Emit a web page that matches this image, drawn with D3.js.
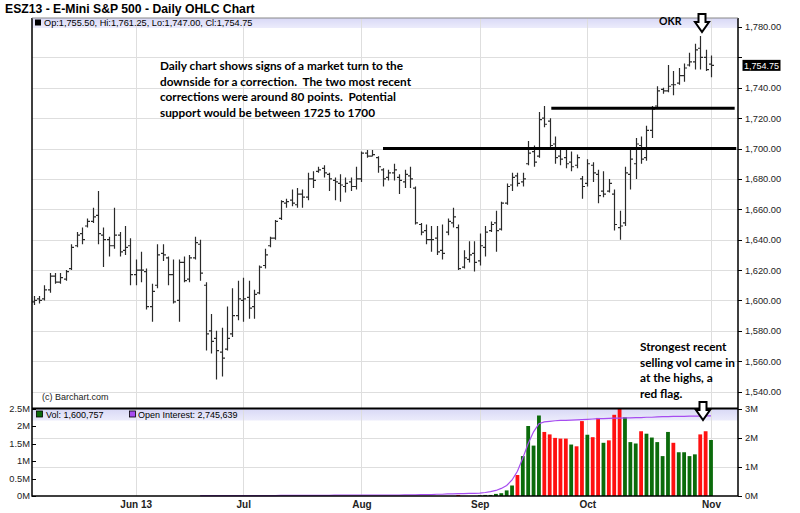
<!DOCTYPE html>
<html>
<head>
<meta charset="utf-8">
<script src="https://d3js.org/d3.v7.min.js"></script>
<style>
  body { margin: 0; background: #fff; }
  svg { display: block; font-family: "Liberation Sans", Arial, sans-serif; }
  .grid line { stroke: #dedede; shape-rendering: crispEdges; }
  .grid path { display: none; }
  .axis text { font-size: 9.3px; fill: #222; }
  .axis line { stroke: #000; shape-rendering: crispEdges; }
  .axis path { display: none; }
  .note { font-family: Lato, "Open Sans", sans-serif; font-weight: bold; font-size: 11.8px; fill: #000; white-space: pre; }
</style>
<title>ESZ13 Daily OHLC</title>
</head>
<body>
<div id="chart"></div>
<script>
// ---- data (trading day index 0 = early May 2013, 126 = Nov 1) ----
const opens = [1599,1601,1601,1607,1616,1612,1614,1621,1636,1644,1649,1652,1656,1643,1640,1636,1643,1633,1636,1617,
  1620,1619,1596,1610,1631,1628,1617,1600,1625,1614,1628,1637,1610,1580,1575,1566,1568,1578,1590,1600,
  1602,1596,1605,1623,1636,1641,1654,1664,1666,1663,1670,1668,1680,1685,1687,1683,1679,1677,1675,1678,
  1675,1680,1697,1695,1694,1686,1681,1684,1681,1678,1682,1674,1650,1646,1640,1641,1633,1645,1651,1648,
  1622,1627,1631,1626,1635,1646,1651,1647,1664,1676,1682,1678,1690,1698,1695,1720,1718,1703,1695,1694,
  1691,1689,1680,1677,1689,1683,1672,1672,1670,1648,1651,1683,1690,1702,1694,1712,1728,1739,1738,1742,
  1743,1748,1755,1757,1766,1760,1755.5];
const highs = [1603,1603,1610,1618,1618,1618,1620,1637,1645,1648,1654,1661,1672,1648,1642,1661,1645,1649,1641,1627,
  1632,1621,1611,1637,1637,1629,1627,1627,1629,1630,1642,1640,1612,1591,1580,1582,1596,1608,1613,1615,
  1613,1607,1623,1634,1642,1653,1666,1667,1673,1674,1673,1684,1685,1688,1689,1684,1681,1683,1681,1681,
  1688,1698,1699,1699,1695,1687,1686,1690,1683,1686,1688,1675,1651,1650,1649,1649,1650,1654,1661,1650,
  1633,1639,1639,1644,1649,1652,1659,1665,1677,1684,1684,1684,1705,1702,1724,1728,1720,1708,1701,1700,
  1698,1696,1682,1693,1691,1686,1685,1680,1673,1659,1688,1700,1707,1708,1715,1728,1741,1740,1755,1751,
  1753,1756,1763,1769,1774,1765,1761.25];
const lows = [1597,1598,1600,1605,1611,1611,1613,1620,1635,1637,1648,1651,1637,1622,1629,1634,1629,1630,1610,1610,
  1612,1594,1586,1608,1626,1610,1598,1586,1612,1612,1627,1613,1567,1565,1548,1550,1567,1576,1587,1586,
  1588,1588,1604,1621,1635,1640,1653,1661,1662,1661,1661,1666,1674,1684,1681,1672,1666,1665,1671,1672,
  1673,1678,1694,1695,1684,1675,1679,1679,1670,1674,1674,1650,1643,1637,1632,1630,1627,1643,1648,1620,
  1621,1625,1619,1623,1629,1645,1632,1646,1663,1672,1675,1675,1689,1688,1694,1714,1701,1690,1689,1687,
  1685,1687,1667,1675,1678,1664,1668,1671,1646,1640,1649,1673,1680,1690,1692,1707,1727,1736,1737,1735,
  1742,1744,1754,1752,1752,1751,1747];
const closes = [1600,1600,1607,1616,1612,1615,1619,1635,1643,1640,1652,1655,1644,1640,1636,1643,1632,1635,1617,1620,
  1620,1596,1606,1630,1630,1617,1599,1625,1613,1628,1638,1618,1578,1573,1567,1562,1575,1590,1601,1601,
  1595,1604,1622,1630,1641,1652,1665,1665,1664,1670,1668,1680,1679,1686,1684,1680,1678,1676,1677,1675,
  1680,1697,1695,1696,1688,1680,1684,1686,1679,1683,1680,1651,1645,1640,1640,1632,1631,1652,1655,1621,
  1628,1630,1625,1636,1645,1650,1646,1664,1675,1681,1677,1680,1697,1691,1719,1716,1702,1694,1693,1690,
  1688,1694,1675,1690,1684,1669,1670,1677,1650,1649,1684,1693,1703,1693,1712,1726,1738,1738,1741,1742,
  1748,1753,1757,1765,1760,1752,1754.75];

// volume (millions, left scale) and direction, from day 79 on
const volStart = 79;
const volumes = [0.03,0,0,0,0.02,0.03,0.03,0.06,0.08,0.16,0.30,0.60,1.14,2.00,1.44,2.30,1.83,1.76,1.66,1.64,
  1.64,1.47,1.42,2.14,1.75,1.68,2.23,1.52,1.59,2.32,2.50,2.25,1.54,1.50,1.85,1.78,1.67,1.54,1.14,1.83,
  1.52,1.25,1.25,1.14,1.19,1.76,1.85,1.60];
const volUp = [0,1,1,1,1,1,1,1,1,1,1,0,1,1,1,1,0,0,0,0,
  0,1,0,0,1,0,0,1,0,0,0,1,1,1,0,1,1,1,1,1,
  0,1,1,1,1,0,0,1];

// open interest (millions, right scale), from day 31 on
const oiStart = 31;
const openInterest = [0.01,0.01,0.01,0.01,0.01,0.01,0.01,0.01,0.01,0.01,0.01,0.01,0.01,0.01,0.01,
  0.02,0.02,0.02,0.02,0.02,0.02,0.02,0.02,0.02,0.02,0.03,0.03,0.03,0.03,0.03,0.03,0.03,0.03,0.03,0.03,
  0.03,0.03,0.03,0.04,0.04,0.04,0.05,0.05,0.05,0.06,0.06,0.07,0.07,0.08,0.08,0.09,0.09,0.10,0.12,0.15,
  0.19,0.26,0.36,0.55,0.85,1.30,1.80,2.20,2.48,2.54,2.56,2.58,2.59,2.59,2.60,2.61,2.62,2.63,2.64,2.65,
  2.65,2.66,2.67,2.67,2.68,2.68,2.69,2.69,2.70,2.70,2.71,2.72,2.72,2.73,2.73,2.73,2.74,2.74,2.74,2.75,2.746];

// x axis: first trading day of each month
const monthIdx = [19, 39, 61, 83, 103, 126];
const monthLabels = ["Jun 13", "Jul", "Aug", "Sep", "Oct", "Nov"];
const priceTicks = d3.range(1540, 1781, 20);
const volTicksLeft = [0, 0.5, 1, 1.5, 2, 2.5];
const volTicksRight = [0, 1, 2, 3];

// support lines drawn on the chart: [price, from day, to day]
const supports = [[1700, 65, 130.7], [1726.5, 96.3, 130.4]];

const noteLines = ["Daily chart shows signs of a market turn to the",
  "downside for a correction.  The two most recent",
  "corrections were around 80 points.  Potential",
  "support would be between 1725 to 1700"];
const volNoteLines = ["Strongest recent", "selling vol came in", "at the highs, a", "red flag."];

// ---- layout ----
const width = 800, height = 513;
const L = 32, R = 738, T = 18, MID = 408.5, B = 496;

const svg = d3.select("#chart").append("svg").attr("width", width).attr("height", height);

const x = d3.scaleLinear().domain([0, 126]).range([33.5, 711]);
const y = d3.scaleLinear().domain([1540, 1780]).range([391.6, 27]);
const vY = d3.scaleLinear().domain([0, 2.5]).range([B, MID]);
const oiY = d3.scaleLinear().domain([0, 3]).range([B, MID]);

// title
svg.append("text").attr("x", 5).attr("y", 12.5).style("font-weight", "bold").style("font-size", "12.2px")
  .text("ESZ13 - E-Mini S&P 500 - Daily OHLC Chart");

// header bands
const defs = svg.append("defs");
const grad = defs.append("linearGradient").attr("id", "band").attr("x1", 0).attr("x2", 0).attr("y1", 0).attr("y2", 1);
grad.append("stop").attr("offset", "0%").attr("stop-color", "#d8d8f6");
grad.append("stop").attr("offset", "100%").attr("stop-color", "#ececfb");
svg.append("rect").attr("x", L).attr("y", T).attr("width", R - L).attr("height", 10).attr("fill", "url(#band)");
svg.append("rect").attr("x", L).attr("y", MID).attr("width", R - L).attr("height", 12).attr("fill", "url(#band)");

// grid
svg.append("g").attr("class", "grid")
  .attr("transform", `translate(${L},0)`)
  .call(d3.axisRight(y).tickValues(priceTicks.filter(d => d < 1780)).tickSize(R - L).tickFormat(""));
svg.append("g").attr("class", "grid")
  .attr("transform", `translate(${L},0)`)
  .call(d3.axisRight(oiY).tickValues([1, 2]).tickSize(R - L).tickFormat(""));
svg.append("g").attr("class", "grid")
  .attr("transform", `translate(0,${T})`)
  .call(d3.axisBottom(x).tickValues(monthIdx).tickSize(B - T).tickFormat(""));

// OHLC bars
const px = i => Math.round(x(i)) + 0.5;
svg.append("g").selectAll("path").data(closes).join("path")
  .attr("d", (c, i) => `M${px(i)},${y(highs[i])}V${y(lows[i])}` +
    `M${px(i) - 2.5},${y(opens[i])}H${px(i)}M${px(i)},${y(c)}H${px(i) + 2.5}`)
  .attr("stroke", "#2a2a2a").attr("stroke-width", 1.2).attr("fill", "none");

// support lines
svg.append("g").selectAll("line").data(supports).join("line")
  .attr("x1", d => x(d[1])).attr("x2", d => x(d[2]))
  .attr("y1", d => y(d[0])).attr("y2", d => y(d[0]))
  .attr("stroke", "#000").attr("stroke-width", 3);

// volume bars
svg.append("g").selectAll("rect").data(volumes).join("rect")
  .attr("x", (v, j) => x(volStart + j) - 1.9).attr("width", 3.8)
  .attr("y", v => vY(v)).attr("height", v => B - vY(v))
  .attr("fill", (v, j) => volUp[j] ? "#0b6b0b" : "#ff1010");

// open interest line
svg.append("path")
  .datum(openInterest)
  .attr("d", d3.line().x((v, j) => x(oiStart + j)).y(v => oiY(v)))
  .attr("fill", "none").attr("stroke", "#a64cf0").attr("stroke-width", 1.2);

// frame
svg.append("path")
  .attr("d", `M${L},${T}V${B}H${R}V${T}`)
  .attr("fill", "none").attr("stroke", "#000").attr("stroke-width", 1.5);
svg.append("line").attr("x1", L).attr("x2", R).attr("y1", MID).attr("y2", MID)
  .attr("stroke", "#000").attr("stroke-width", 2);
svg.append("line").attr("x1", L).attr("x2", R).attr("y1", T).attr("y2", T)
  .attr("stroke", "#888").attr("stroke-width", 1);

// axes
const lastClose = closes[closes.length - 1];
svg.append("g").attr("class", "axis")
  .attr("transform", `translate(${R},0)`)
  .call(d3.axisRight(y).tickValues(priceTicks).tickSize(4).tickPadding(3)
    .tickFormat(d => Math.abs(d - lastClose) < 8 ? "" : d3.format(",.2f")(d)));
svg.append("g").attr("class", "axis")
  .attr("transform", `translate(${R},0)`)
  .call(d3.axisRight(oiY).tickValues(volTicksRight).tickSize(4).tickPadding(3).tickFormat(d => d + "M"));
svg.append("g").attr("class", "axis")
  .attr("transform", `translate(${L},0)`)
  .call(d3.axisLeft(vY).tickValues(volTicksLeft).tickSizeInner(-4).tickSizeOuter(0).tickPadding(2).tickFormat(d => d + "M"));
svg.append("g").attr("class", "axis")
  .attr("transform", `translate(0,${B})`)
  .call(d3.axisBottom(x).tickValues(monthIdx).tickSize(0).tickPadding(5).tickFormat((d, i) => monthLabels[i]))
  .selectAll("text").style("font-weight", "bold").style("font-size", "10px");

// last price marker
const lp = svg.append("g").attr("transform", `translate(${R + 4.5},${y(lastClose)})`);
lp.append("rect").attr("x", 0).attr("y", -5.5).attr("width", 38).attr("height", 11).attr("fill", "#000");
lp.append("text").attr("x", 19).attr("y", 3.3).attr("text-anchor", "middle").attr("fill", "#fff")
  .style("font-size", "9px").text(d3.format(",.2f")(lastClose));

// legends
const o = opens[126], h = highs[126], lo = lows[126];
const f2 = d3.format(",.2f");
svg.append("rect").attr("x", 35).attr("y", 19.5).attr("width", 6).attr("height", 6).attr("fill", "#000");
svg.append("text").attr("x", 44).attr("y", 26).style("font-size", "9.2px")
  .text(`Op:${f2(o)}, Hi:${f2(h)}, Lo:${f2(lo)}, Cl:${f2(lastClose)}`);
svg.append("rect").attr("x", 36.5).attr("y", 411).attr("width", 6).attr("height", 6)
  .attr("fill", "#0b6b0b").attr("stroke", "#000").attr("stroke-width", 0.8);
svg.append("text").attr("x", 46).attr("y", 418).style("font-size", "9px").text("Vol: 1,600,757");
svg.append("rect").attr("x", 129.5).attr("y", 411).attr("width", 6).attr("height", 6)
  .attr("fill", "#a64cf0").attr("stroke", "#000").attr("stroke-width", 0.8);
svg.append("text").attr("x", 138).attr("y", 418).style("font-size", "9px").text("Open Interest: 2,745,639");
svg.append("text").attr("x", 42).attr("y", 400).style("font-size", "9px").attr("fill", "#222").text("(c) Barchart.com");

// annotations
svg.append("g").selectAll("text").data(noteLines).join("text")
  .attr("class", "note").attr("x", 160).attr("y", (d, i) => 70 + i * 15.6).text(d => d);
svg.append("g").selectAll("text").data(volNoteLines).join("text")
  .attr("class", "note").attr("x", 640).attr("y", (d, i) => 351 + i * 15.6).text(d => d);
svg.append("text").attr("class", "note").attr("x", 659).attr("y", 25).style("font-size", "10.5px").text("OKR");

// hollow down arrows
function arrow(cx, top) {
  svg.append("path")
    .attr("d", `M${cx - 3.5},${top}H${cx + 3.5}V${top + 8}H${cx + 7}L${cx},${top + 18}L${cx - 7},${top + 8}H${cx - 3.5}Z`)
    .attr("fill", "#fff").attr("stroke", "#000").attr("stroke-width", 2).attr("stroke-linejoin", "miter");
}
arrow(702, 14);
arrow(703, 402);
</script>
</body>
</html>
